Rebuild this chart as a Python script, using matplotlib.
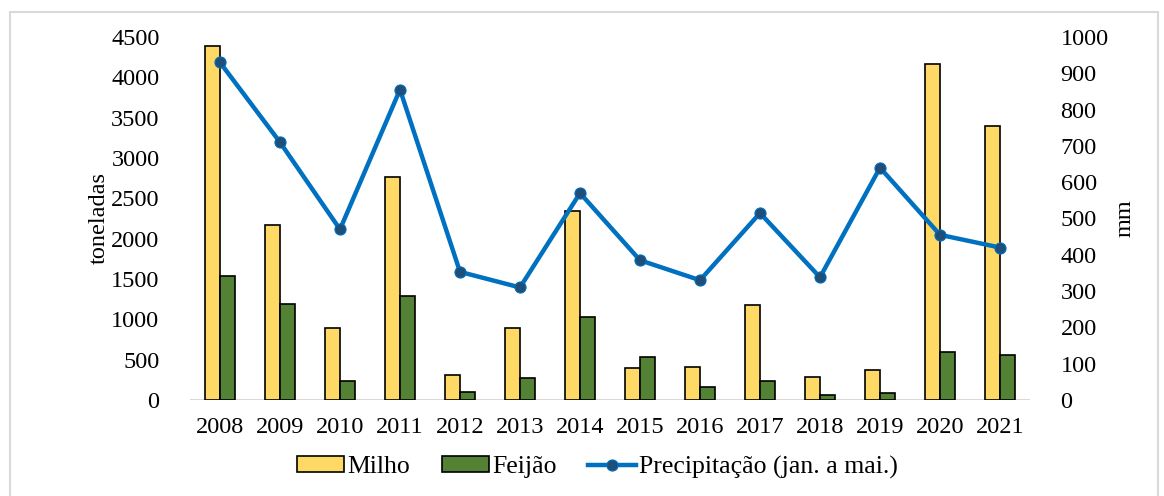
import numpy as np
import matplotlib.pyplot as plt
from matplotlib.patches import Rectangle

years = ["2008", "2009", "2010", "2011", "2012", "2013", "2014",
         "2015", "2016", "2017", "2018", "2019", "2020", "2021"]
milho = [4390, 2170, 890, 2760, 310, 890, 2340,
         400, 410, 1180, 290, 370, 4170, 3400]
feijao = [1540, 1190, 230, 1290, 100, 270, 1030,
          530, 165, 230, 65, 90, 600, 560]
precip = [930, 710, 470, 855, 353, 310, 570,
          385, 330, 515, 338, 640, 455, 420]

plt.rcParams["font.family"] = ["Liberation Serif", "DejaVu Serif"]
FS = 17.5

fig = plt.figure(figsize=(11.64, 4.96), dpi=100)
ax = fig.add_axes([190 / 1164, 1 - 400 / 496, 840 / 1164, 363 / 496])
ax2 = ax.twinx()

x = np.arange(len(years))
w = 0.25
b1 = ax.bar(x - w / 2, milho, w, color="#FFD966", edgecolor="black",
            linewidth=1.2, label="Milho", zorder=2)
b2 = ax.bar(x + w / 2, feijao, w, color="#548235", edgecolor="black",
            linewidth=1.2, label="Feijão", zorder=2)
ln, = ax2.plot(x, precip, color="#0070C0", lw=3.2, marker="o", ms=8,
               mfc="#1F4E79", mec="#0070C0", mew=0.8,
               label="Precipitação (jan. a mai.)", zorder=3)

ax.set_xlim(-0.5, len(years) - 0.5)
ax.set_ylim(0, 4500)
ax.set_yticks(np.arange(0, 4501, 500))
ax2.set_ylim(0, 1000)
ax2.set_yticks(np.arange(0, 1001, 100))
ax.set_xticks(x)
ax.set_xticklabels(years)

for a in (ax, ax2):
    for s in a.spines.values():
        s.set_visible(False)
    a.tick_params(length=0, labelsize=FS)
ax.tick_params(axis="y", pad=22)
ax2.tick_params(axis="y", pad=22)
ax.tick_params(axis="x", pad=12)
ax.axhline(0, color="#D9D9D9", lw=1.5, zorder=1)

ax.set_ylabel("toneladas", fontsize=FS, labelpad=1)
ax2.set_ylabel("mm", fontsize=FS, labelpad=4)

# legend sits under the x labels, centred on the whole figure
fig.legend(handles=[b1, b2, ln], loc="center", bbox_to_anchor=(0.513, 1 - 467 / 496),
           ncol=3, frameon=False, fontsize=18.5, handlelength=1.85,
           handleheight=0.6, handletextpad=0.1, columnspacing=1.25)

fig.patches.append(Rectangle((10 / 1164, -0.1), 1148 / 1164, 1.1 - 12 / 496,
                             transform=fig.transFigure, fill=False,
                             edgecolor="#D9D9D9", lw=1.5))

fig.savefig("out.png", dpi=100)
